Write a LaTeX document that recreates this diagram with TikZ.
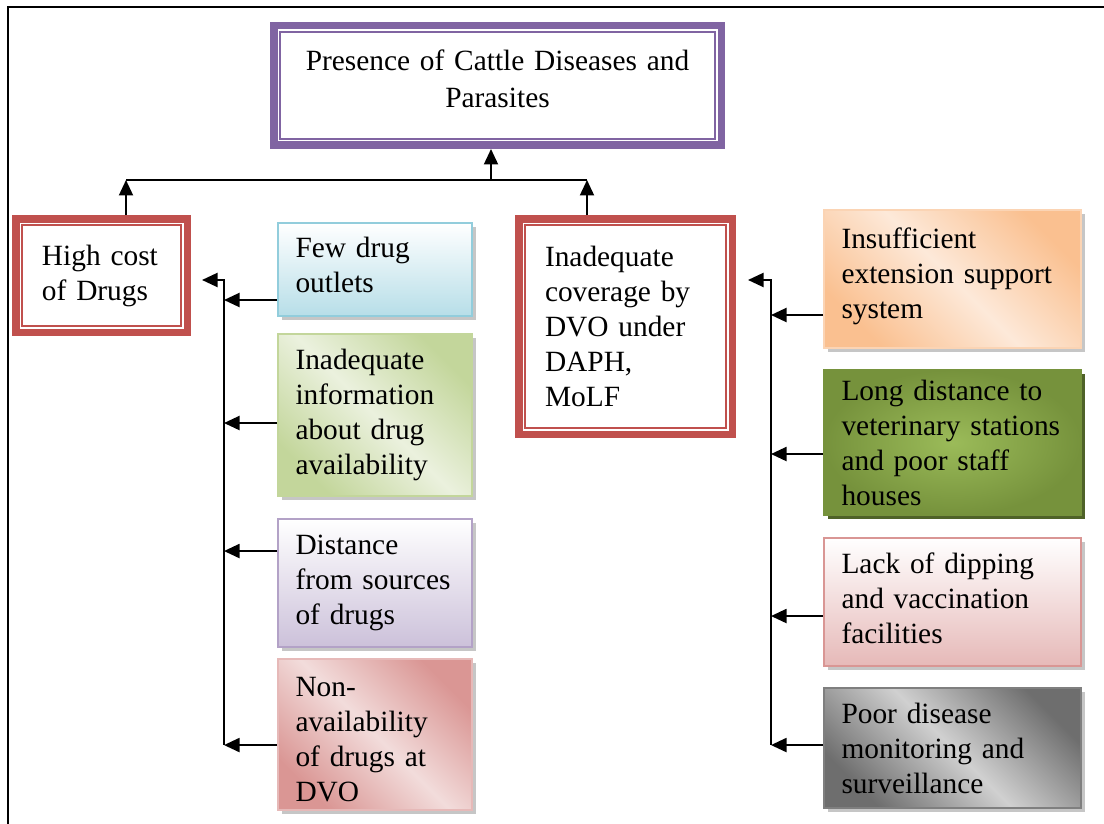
\documentclass[tikz,border=0pt]{standalone}
\usepackage{fontspec}
\setmainfont{Liberation Serif}
\usepackage{tikz}
\usetikzlibrary{arrows.meta,shadows}

\definecolor{purp}{HTML}{8064A2}
\definecolor{redb}{HTML}{C0504D}
\definecolor{bluel}{HTML}{B7DEE8}
\definecolor{blueb}{HTML}{92CDDC}
\definecolor{greenl}{HTML}{EBF1DE}
\definecolor{greend}{HTML}{C3D69B}
\definecolor{lilacl}{HTML}{CCC1DA}
\definecolor{lilacb}{HTML}{B3A2C7}
\definecolor{rosel}{HTML}{F2DCDB}
\definecolor{rosed}{HTML}{DA9694}
\definecolor{roseb}{HTML}{E6B9B8}
\definecolor{orl}{HTML}{FDE9D9}
\definecolor{ord}{HTML}{FAC090}
\definecolor{orb}{HTML}{FBD4B4}
\definecolor{olivel}{HTML}{9BBB59}
\definecolor{olived}{HTML}{76923C}
\definecolor{olives}{HTML}{4F6228}
\definecolor{pinkd}{HTML}{E6B9B8}
\definecolor{pinkb}{HTML}{D99694}
\definecolor{greyl}{HTML}{D0D0D0}
\definecolor{greyd}{HTML}{6E6E6E}
\definecolor{greyb}{HTML}{7F7F7F}

\tikzset{
  dbl/.style={draw=#1, line width=3pt, fill=white, inner xsep=10.5pt,
    path picture={\draw[#1, line width=0.8pt]
      ([shift={(2.6pt,2.6pt)}]path picture bounding box.south west) rectangle
      ([shift={(-2.6pt,-2.6pt)}]path picture bounding box.north east);}},
  cause/.style={draw=#1, line width=0.8pt, inner xsep=7pt, align=left},
  small/.style={cause=#1, text width=63.6pt},
  wide/.style={cause=#1, text width=88.8pt},
  shd/.style={drop shadow={shadow xshift=1.4pt, shadow yshift=-1.4pt, fill=#1, opacity=1}},
  shd/.default=gray!45,
  diag/.style 2 args={left color=#1, right color=#1, middle color=#2, shading angle=135}
}

\begin{document}
\begin{tikzpicture}[>={Triangle[length=6.2pt,width=5.6pt]}, line width=0.8pt,
    node distance=2cm, font=\fontsize{11.75pt}{14pt}\selectfont]
  \path[use as bounding box, clip] (0,0) rectangle (441.6pt,329.2pt);
  \draw[line width=0.7pt] (3.2pt,-5pt) |- (450pt,326.4pt);

  \node[dbl=purp, text width=158pt, align=center, minimum height=47.8pt,
    font=\fontsize{11.75pt}{14.8pt}\selectfont] (1) at (199pt,295pt)
    {Presence of Cattle Diseases and\\Parasites\rule[-5.6pt]{0pt}{0pt}};
  \node[dbl=redb, text width=47.6pt, align=left, minimum height=45.4pt,
    below of=1, xshift=-158.4pt, yshift=-19.1pt] (2) {High cost\\of Drugs};
  \node[dbl=redb, text width=64.4pt, align=left, minimum height=86.2pt,
    below of=1, xshift=51.2pt, yshift=-39.5pt] (3)
    {Inadequate\\coverage by\\DVO under\\DAPH,\\MoLF};

  \node[small=blueb, shd, top color=white, bottom color=bluel, minimum height=37.2pt,
    right of=2, xshift=52.5pt, yshift=2.4pt] (4) {Few drug\\outlets\rule[-3.4pt]{0pt}{0pt}};
  \node[small=greend, shd, diag={greend}{greenl}, minimum height=64.8pt,
    below of=4, yshift=-1.3pt] (5) {Inadequate\\information\\about drug\\availability};
  \node[small=lilacb, shd, top color=white, bottom color=lilacl, minimum height=51.2pt,
    below of=5, yshift=-10.3pt] (6) {Distance\\from sources\\of drugs};
  \node[small=roseb, shd, diag={rosed}{rosel}, minimum height=60.4pt,
    below of=6, yshift=-3.7pt] (7) {\rule{0pt}{11.5pt}Non-\\availability\\of drugs at\\DVO};

  \node[wide=orb, shd, diag={ord}{orl}, minimum height=55.2pt,
    right of=3, xshift=73.9pt, yshift=19pt] (8) {Insufficient\\extension support\\system\rule[-5pt]{0pt}{0pt}};
  \node[wide=olived, shd=olives, inner color=olivel, outer color=olived, minimum height=58pt,
    below of=8, yshift=-8.5pt] (9) {Long distance to\\veterinary stations\\and poor staff\\houses};
  \node[wide=pinkb, shd, top color=white, bottom color=pinkd, minimum height=51.2pt,
    below of=9, yshift=-6.9pt] (10) {Lack of dipping\\and vaccination\\facilities\rule[-3.4pt]{0pt}{0pt}};
  \node[wide=greyb, shd, diag={greyd}{greyl}, minimum height=48pt,
    below of=10, yshift=-1.5pt] (11) {Poor disease\\monitoring and\\surveillance};

  \coordinate (j0) at (196.4pt,257.2pt);
  \coordinate (j1) at (50.4pt,257.2pt);
  \coordinate (j2) at (234.8pt,257.2pt);
  \draw[->] (2.north -| j1) -- (j1);
  \draw[->] (3.north -| j2) -- (j2);
  \draw (j1) -- (j2);
  \draw[->] (j0) -- (1.south -| j0);

  \coordinate (lt) at (89.6pt,217.2pt);
  \coordinate (lb) at (89.6pt,31.2pt);
  \coordinate (lh) at (80.8pt,217.2pt);
  \draw[->] (lb) -- (lt) -- (lh);
  \foreach \n/\d in {4/-12.2,5/-3.2,6/12.8,7/-4.2}{
    \coordinate (s\n) at ([yshift=\d pt]\n.west);
    \draw[->] (s\n) -- (s\n -| lt);
  }

  \coordinate (rt) at (308.4pt,217.2pt);
  \coordinate (rb) at (308.4pt,31.2pt);
  \coordinate (rh) at (299.2pt,217.2pt);
  \draw[->] (rb) -- (rt) -- (rh);
  \foreach \n/\d in {8/-14.4,9/-4.6,10/-5.6,11/1.2}{
    \coordinate (s\n) at ([yshift=\d pt]\n.west);
    \draw[->] (s\n) -- (s\n -| rt);
  }
\end{tikzpicture}
\end{document}
